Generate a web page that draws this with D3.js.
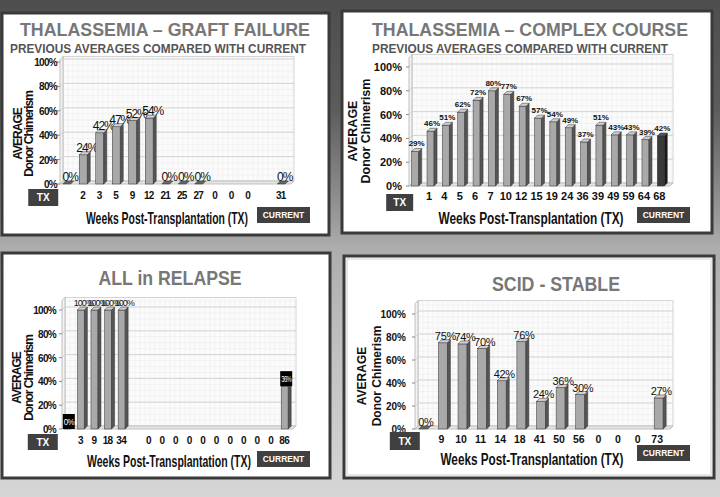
<!DOCTYPE html>
<html><head><meta charset="utf-8">
<script src="https://cdn.jsdelivr.net/npm/d3@7/dist/d3.min.js"></script>
<style>
html,body{margin:0;padding:0;background:#fff;}
svg{display:block;font-family:"Liberation Sans",Arial,Helvetica,sans-serif;}
</style></head>
<body>
<svg id="c" width="720" height="497"></svg>
<script>
// ---------- DATA ----------
const yTicks = [0, 20, 40, 60, 80, 100];

const gfTitle = "THALASSEMIA – GRAFT FAILURE";
const gfCategories = ["TX","2","3","5","9","12","21","25","27","0","0","0","","31"];
const gfValues = [0, 24, 42, 47, 52, 54, 0, 0, 0, null, null, null, null, 0];

const ccTitle = "THALASSEMIA – COMPLEX COURSE";
const ccCategories = ["TX","1","4","5","6","7","10","12","15","19","24","36","39","49","59","64","68"];
const ccValues = [29, 46, 51, 62, 72, 80, 77, 67, 57, 54, 49, 37, 51, 43, 43, 39, 42];

const arTitle = "ALL in RELAPSE";
const arCategories = ["TX","3","9","18","34","","0","0","0","0","0","0","0","0","0","0","86"];
const arValues = [0, 100, 100, 100, 100, null, null, null, null, null, null, null, null, null, null, null, 36];

const ssTitle = "SCID - STABLE";
const ssCategories = ["TX","9","10","11","14","18","41","50","56","0","0","0","73"];
const ssValues = [0, 75, 74, 70, 42, 76, 24, 36, 30, null, null, null, 27];

const subTitle = "PREVIOUS AVERAGES COMPARED WITH CURRENT";
const xTitle = "Weeks Post-Transplantation (TX)";
const yTitle1 = "AVERAGE";
const yTitle2 = "Donor Chimerism";

// ---------- LAYOUT / STYLE ----------
const svg = d3.select("#c");
const defs = svg.append("defs");
const bg = defs.append("linearGradient").attr("id","bg").attr("x1",0).attr("y1",0).attr("x2",0).attr("y2",1);
[[0,"#4e4e4e"],[0.22,"#5c5c5c"],[0.44,"#9a9a9a"],[0.5,"#adadad"],[0.75,"#c4c4c4"],[1,"#d6d6d6"]]
  .forEach(([o,c])=>bg.append("stop").attr("offset",o).attr("stop-color",c));
svg.append("rect").attr("width",720).attr("height",497).attr("fill","url(#bg)");

const panels = [
  { cats: gfCategories, vals: gfValues, title: gfTitle, sub: true,
    box:[2,13,327,222], titleXY:[165,36], titleLen:290, titleSize:19, subXY:[158,53], subLen:296,
    range:[60,291], y0:184, y100:62, wallMax:102, d:3,
    bw:8, labelFont:"cond", labelSize:12, labelOff:3, labelDx:2,
    catY:199, catDx:-2, catSize:10, catCond:true,
    tick:{x:57,size:10,cond:true},
    tx:{dx:-25,y:189,w:30,h:17}, cur:{x:257,y:207,w:53,h:16},
    xt:{x:167,y:224,len:162,size:17,cond:true},
    yt:{x1:18,x2:29,y:134,size:12,cond:true} },
  { cats: ccCategories, vals: ccValues, title: ccTitle, sub: true,
    box:[342,11,370,222], titleXY:[530,36], titleLen:316, titleSize:19, subXY:[520,53], subLen:296,
    range:[409,670], y0:186, y100:67, wallMax:108, d:3,
    bw:7, labelFont:"bold", labelSize:8, labelOff:5, labelDx:0, darkLast:true,
    catY:200, catDx:-3, catSize:11, catCond:false,
    tick:{x:402,size:11,cond:false},
    tx:{dx:-17,y:194,w:27,h:17}, cur:{x:637,y:207,w:53,h:16},
    xt:{x:531,y:224,len:185,size:16,cond:false},
    yt:{x1:353,x2:366,y:131,size:12.5,cond:false} },
  { cats: arCategories, vals: arValues, title: arTitle, sub: false, boxed:[0,16],
    box:[2,253,328,225], titleXY:[170,285], titleLen:143, titleSize:21,
    range:[62,293], y0:429, y100:310, wallMax:108, d:3,
    bw:7, labelFont:"cond", labelSize:9, labelOff:4, labelDx:1,
    catY:444, catDx:-2, catSize:10, catCond:true,
    tick:{x:56,size:10,cond:true},
    tx:{dx:-26,y:434,w:30,h:16}, cur:{x:257,y:451,w:53,h:16},
    xt:{x:169,y:467,len:164,size:17,cond:true},
    yt:{x1:17,x2:29,y:378,size:12,cond:true} },
  { cats: ssCategories, vals: ssValues, title: ssTitle, sub: false, inner:true,
    box:[344,256,370,222], titleXY:[556,291], titleLen:128, titleSize:20,
    range:[415,670], y0:429, y100:314, wallMax:109, d:3,
    bw:9, labelFont:"reg", labelSize:11, labelOff:3, labelDx:1,
    catY:443, catDx:-3, catSize:10.5, catCond:false,
    tick:{x:406,size:10,cond:false},
    tx:{dx:-20,y:432,w:30,h:18}, cur:{x:637,y:445,w:53,h:16},
    xt:{x:532,y:465,len:183,size:16,cond:false},
    yt:{x1:362,x2:377,y:376,size:12,cond:false} }
];

function condAttrs(sel, cond){
  if (cond) sel.attr("letter-spacing", "-0.7px");
  return sel;
}

panels.forEach(p => {
  const g = svg.append("g");
  const [bx,by,bwid,bht] = p.box;
  g.append("rect").attr("x",bx).attr("y",by).attr("width",bwid).attr("height",bht)
    .attr("fill","#fff").attr("stroke","#3a3a3a").attr("stroke-width",3);
  if (p.inner) g.append("rect").attr("x",bx+3).attr("y",by+3).attr("width",bwid-6).attr("height",bht-6)
    .attr("fill","none").attr("stroke","#cfcfcf").attr("stroke-width",1);

  // titles
  g.append("text").attr("x",p.titleXY[0]).attr("y",p.titleXY[1]).attr("text-anchor","middle")
    .attr("font-size",p.titleSize).attr("font-weight","bold").attr("fill","#777")
    .attr("textLength",p.titleLen).attr("lengthAdjust","spacingAndGlyphs").text(p.title);
  if (p.sub) g.append("text").attr("x",p.subXY[0]).attr("y",p.subXY[1]).attr("text-anchor","middle")
    .attr("font-size",12).attr("font-weight","bold").attr("fill","#555")
    .attr("textLength",p.subLen).attr("lengthAdjust","spacingAndGlyphs").text(subTitle);

  const x = d3.scaleBand().domain(d3.range(p.cats.length)).range(p.range);
  const y = d3.scaleLinear().domain([0,100]).range([p.y0,p.y100]);
  const d = p.d;
  const L = p.range[0], R = p.range[1];
  const top = y(p.wallMax);

  // back wall
  g.append("rect").attr("x",L+d).attr("y",top-d).attr("width",R-L).attr("height",p.y0-top)
    .attr("fill","#fbfbfb").attr("stroke","#c8c8c8").attr("stroke-width",0.8);
  // minor grid
  const minorY = d3.range(0, p.wallMax, 5);
  g.selectAll(null).data(minorY).join("line")
    .attr("x1",L+d).attr("x2",R+d).attr("y1",v=>y(v)-d).attr("y2",v=>y(v)-d)
    .attr("stroke","#ececec").attr("stroke-width",0.6);
  const minorX = d3.range(L+d, R+d, 5);
  g.selectAll(null).data(minorX).join("line")
    .attr("x1",v=>v).attr("x2",v=>v).attr("y1",top-d).attr("y2",p.y0-d)
    .attr("stroke","#ececec").attr("stroke-width",0.6);
  // side wall + floor
  g.append("path").attr("d",`M${L},${p.y0}L${L},${top}L${L+d},${top-d}L${L+d},${p.y0-d}Z`)
    .attr("fill","#f3f3f3").attr("stroke","#b0b0b0").attr("stroke-width",0.8);
  g.append("path").attr("d",`M${L},${p.y0}L${R},${p.y0}L${R+d},${p.y0-d}L${L+d},${p.y0-d}Z`)
    .attr("fill","#e6e6e6").attr("stroke","#b5b5b5").attr("stroke-width",0.8);
  // major grid
  g.selectAll(null).data(yTicks.filter(v=>v>0)).join("path")
    .attr("d",v=>`M${L},${y(v)}L${L+d},${y(v)-d}L${R+d},${y(v)-d}`)
    .attr("fill","none").attr("stroke","#cdcdcd").attr("stroke-width",0.8);
  // tick marks + labels
  g.selectAll(null).data(yTicks).join("line")
    .attr("x1",L-3).attr("x2",L).attr("y1",v=>y(v)).attr("y2",v=>y(v)).attr("stroke","#888");
  condAttrs(g.selectAll(null).data(yTicks).join("text")
    .attr("x",p.tick.x).attr("y",v=>y(v)+4).attr("text-anchor","end")
    .attr("font-size",p.tick.size).attr("font-weight","bold").attr("fill","#111")
    .text(v=>v+"%"), p.tick.cond);

  // bars
  const bars = p.vals.map((v,i)=>({v,i})).filter(o=>o.v!==null);
  const bg2 = g.append("g");
  bars.forEach(o => {
    const cx = x(o.i) + x.bandwidth()/2;
    const x0 = cx - (p.bw + d)/2, x1 = x0 + p.bw;
    const yt = y(o.v), yb = p.y0;
    const dark = p.darkLast && o.i === p.cats.length-1;
    const front = dark ? "#3a3a3a" : "#a9a9a9";
    const side = dark ? "#1a1a1a" : "#555";
    const topc = dark ? "#555" : "#cfcfcf";
    if (o.v > 0) {
      bg2.append("rect").attr("x",x0).attr("y",yt).attr("width",p.bw).attr("height",yb-yt)
        .attr("fill",front).attr("stroke","#333").attr("stroke-width",0.5);
      bg2.append("path").attr("d",`M${x1},${yt}L${x1+d},${yt-d}L${x1+d},${yb-d}L${x1},${yb}Z`)
        .attr("fill",side).attr("stroke","#333").attr("stroke-width",0.5);
    }
    bg2.append("path").attr("d",`M${x0},${yt}L${x0+d},${yt-d}L${x1+d},${yt-d}L${x1},${yt}Z`)
      .attr("fill", o.v>0 ? topc : "#666").attr("stroke","#333").attr("stroke-width",0.5);
    // label
    const lx = cx + p.labelDx, ly = yt - p.labelOff;
    const boxed = p.boxed && p.boxed.includes(o.i);
    if (boxed) {
      bg2.append("rect").attr("x",x0-1).attr("y",yt-15).attr("width",p.bw+d+2).attr("height",15).attr("fill","#000");
      bg2.append("text").attr("x",cx).attr("y",yt-4.5).attr("text-anchor","middle")
        .attr("font-size",8.5).attr("fill","#fff").attr("letter-spacing","-0.8px")
        .attr("textLength",p.bw+d).attr("lengthAdjust","spacingAndGlyphs").text(o.v+"%");
      return;
    }
    const t = bg2.append("text").attr("x", lx).attr("y", ly).attr("text-anchor","middle")
      .attr("font-size", p.labelSize).attr("fill", "#111")
      .attr("font-weight", p.labelFont==="bold" ? "bold" : "normal")
      .text(o.v+"%");
    if (p.labelFont==="cond") t.attr("letter-spacing","-1px");
    if (p.labelFont==="reg") t.attr("letter-spacing","-0.3px");
  });

  // category labels
  condAttrs(g.selectAll(null).data(p.cats.map((c,i)=>({c,i})).filter(o=>o.i>0 && o.c!=="")).join("text")
    .attr("x",o=>x(o.i)+x.bandwidth()/2+p.catDx).attr("y",p.catY).attr("text-anchor","middle")
    .attr("font-size",p.catSize).attr("font-weight","bold").attr("fill","#111").text(o=>o.c), p.catCond);
  // TX box
  const tcx = x(0) + x.bandwidth()/2 + p.tx.dx;
  g.append("rect").attr("x",tcx-p.tx.w/2).attr("y",p.tx.y).attr("width",p.tx.w).attr("height",p.tx.h).attr("fill","#404040");
  g.append("text").attr("x",tcx).attr("y",p.tx.y+p.tx.h/2+3.5).attr("text-anchor","middle")
    .attr("font-size",10).attr("font-weight","bold").attr("fill","#fff").text(p.cats[0]);
  // CURRENT box
  g.append("rect").attr("x",p.cur.x).attr("y",p.cur.y).attr("width",p.cur.w).attr("height",p.cur.h).attr("fill","#404040");
  g.append("text").attr("x",p.cur.x+p.cur.w/2).attr("y",p.cur.y+p.cur.h/2+3.3).attr("text-anchor","middle")
    .attr("font-size",8.5).attr("font-weight","bold").attr("fill","#fff").text("CURRENT");
  // x title
  g.append("text").attr("x",p.xt.x).attr("y",p.xt.y).attr("text-anchor","middle")
    .attr("font-size",p.xt.size).attr("font-weight","bold").attr("fill","#111")
    .attr("textLength",p.xt.len).attr("lengthAdjust","spacingAndGlyphs").text(xTitle);
  // y titles
  [[yTitle1,p.yt.x1],[yTitle2,p.yt.x2]].forEach(([s,xx])=>{
    const t = g.append("text").attr("transform",`translate(${xx+4},${p.yt.y}) rotate(-90)`)
      .attr("text-anchor","middle").attr("font-size",p.yt.size).attr("font-weight","bold").attr("fill","#111").text(s);
    if (p.yt.cond) t.attr("letter-spacing","-1px");
  });
});
</script>
</body></html>
